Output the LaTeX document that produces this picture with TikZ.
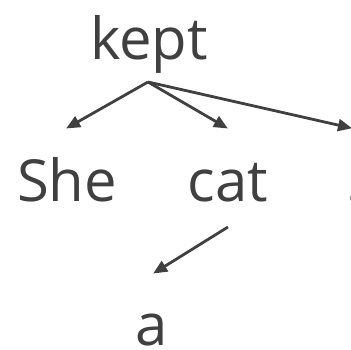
\documentclass[tikz,border=0pt]{standalone}
\usepackage{fontspec}
\setmainfont{Open Sans}
\usetikzlibrary{arrows.meta}
\definecolor{ink}{HTML}{404040}
\tikzset{
  word/.style={anchor=base, inner sep=0pt, text=ink, font=\fontsize{58}{60}\selectfont},
  dep/.style={draw=ink, line width=2.8pt, -{Triangle[length=14pt,width=12pt]}, shorten >=-1pt}
}
\begin{document}
\begin{tikzpicture}[x=1pt,y=-1pt]
\useasboundingbox (0,0) rectangle (351,350);
\node[word] (kept) at (149,60) {kept};
\node[word] (She) at (67,202) {She};
\node[word] (cat) at (228,202) {cat};
\node[word] (dot) at (354,202) {.};
\node[word] (a) at (152,345) {a};
\coordinate (keptout) at (148,82);
\coordinate (shein) at (67,128);
\coordinate (catin) at (227,128);
\coordinate (dotin) at (351,128);
\coordinate (catout) at (228,227);
\coordinate (ain) at (154,273);
\draw[dep] (keptout) -- (shein);
\draw[dep] (keptout) -- (catin);
\draw[dep] (keptout) -- (dotin);
\draw[dep] (catout) -- (ain);
\end{tikzpicture}
\end{document}
